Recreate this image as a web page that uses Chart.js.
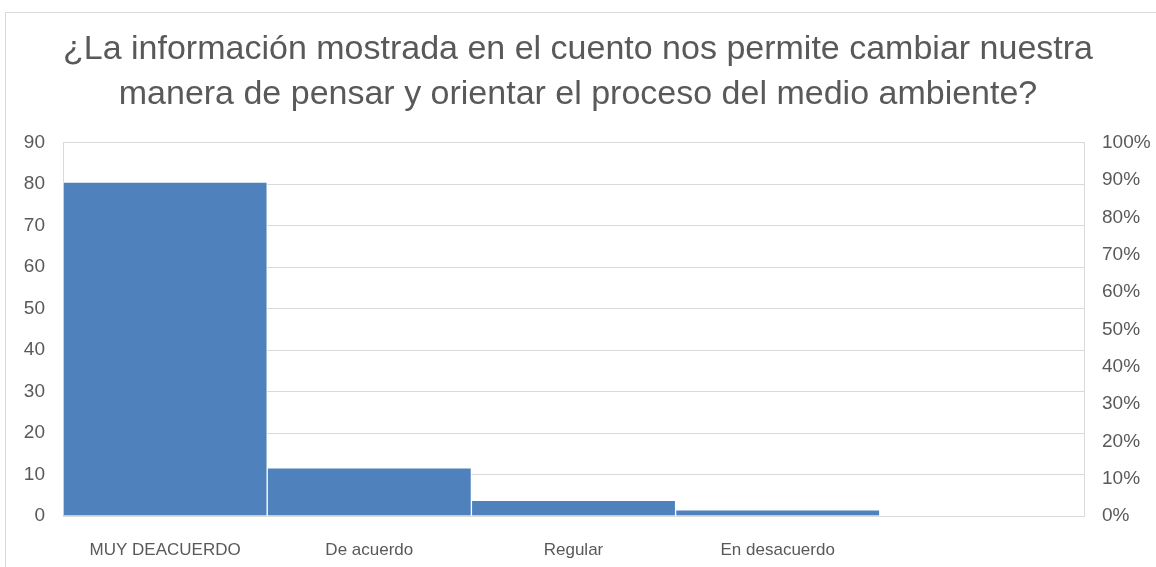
<!DOCTYPE html>
<html>
<head>
<meta charset="utf-8">
<script src="https://cdn.jsdelivr.net/npm/chart.js@4/dist/chart.umd.min.js"></script>
<style>
  html, body { margin: 0; padding: 0; background: #ffffff; }
  #wrap { position: relative; width: 1156px; height: 567px; overflow: hidden; }
  #frame { position: absolute; left: 5px; top: 12px; width: 1200px; height: 600px;
           border-left: 1px solid #d9d9d9; border-top: 1px solid #d9d9d9; }
  canvas { position: absolute; left: 0; top: 0; }
</style>
</head>
<body>
<div id="wrap">
  <div id="frame"></div>
  <canvas id="c" width="1156" height="567"></canvas>
</div>
<script>
const titleLines = [
  '¿La información mostrada en el cuento nos permite cambiar nuestra',
  'manera de pensar y orientar el proceso del medio ambiente?'
];
const categories = ['MUY DEACUERDO', 'De acuerdo', 'Regular', 'En desacuerdo', ''];
const values = [80.5, 11.6, 3.8, 1.5, null];
const leftMax = 90;
const leftStep = 10;
const rightMax = 1;
const rightStep = 0.1;

const textColor = '#595959';
const gridColor = '#d9d9d9';
const fontFamily = '"Liberation Sans", Arial, sans-serif';

new Chart(document.getElementById('c'), {
  type: 'bar',
  data: {
    labels: categories,
    datasets: [{
      data: values,
      backgroundColor: '#4f81bd',
      borderColor: 'rgba(255,255,255,0.85)',
      borderWidth: 1,
      barPercentage: 1,
      categoryPercentage: 1,
      yAxisID: 'y'
    }]
  },
  options: {
    responsive: false,
    animation: false,
    layout: { padding: 0 },
    plugins: {
      legend: { display: false },
      tooltip: { enabled: false },
      title: {
        display: true,
        text: titleLines,
        color: textColor,
        font: { family: fontFamily, size: 34, weight: 'normal', lineHeight: 1.32 },
        padding: { top: 27, bottom: 26 }
      }
    },
    scales: {
      x: {
        grid: { display: false, drawTicks: false },
        border: { display: true, color: gridColor },
        ticks: { color: textColor, font: { family: fontFamily, size: 17 }, padding: 24, maxRotation: 0, autoSkip: false },
        afterFit(s) { s.height = 51; }
      },
      y: {
        position: 'left',
        min: 0, max: leftMax,
        grid: { color: gridColor, drawTicks: false },
        border: { display: true, color: gridColor },
        ticks: { stepSize: leftStep, color: textColor, font: { family: fontFamily, size: 19 }, padding: 18 },
        afterFit(s) { s.width = 63; }
      },
      y1: {
        position: 'right',
        min: 0, max: rightMax,
        grid: { display: false, drawTicks: false },
        border: { display: true, color: gridColor },
        ticks: {
          stepSize: rightStep, color: textColor, font: { family: fontFamily, size: 19 }, padding: 18,
          callback: v => Math.round(v * 100) + '%'
        },
        afterFit(s) { s.width = 72; }
      }
    }
  }
});
</script>
</body>
</html>
